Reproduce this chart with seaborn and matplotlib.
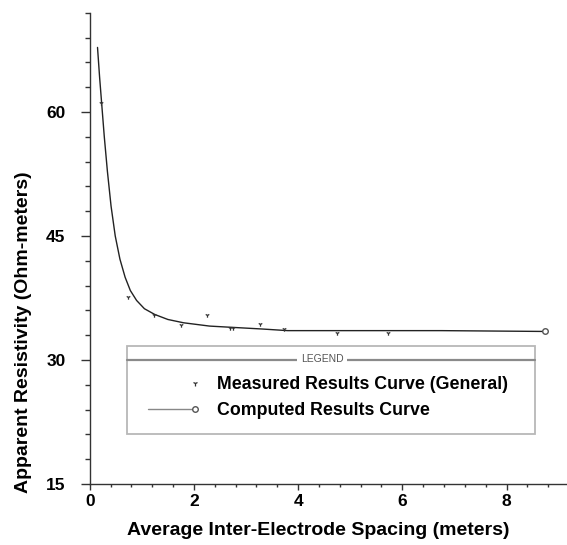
import matplotlib
matplotlib.use("Agg")
import matplotlib.pyplot as plt
import seaborn as sns
import pandas as pd
from matplotlib.lines import Line2D
from matplotlib.patches import Rectangle
from matplotlib.legend_handler import HandlerLine2D
from matplotlib.ticker import MultipleLocator

# ---- data ----
measured_x = [0.21, 0.73, 1.24, 1.75, 2.25, 2.69, 2.75, 3.26, 3.73, 4.74, 5.72]
measured_y = [61.1, 37.6, 35.4, 34.2, 35.4, 33.9, 33.9, 34.3, 33.75, 33.3, 33.3]

computed_x = [0.15, 0.19, 0.23, 0.28, 0.34, 0.41, 0.49, 0.58, 0.68, 0.78, 0.90,
              1.05, 1.25, 1.50, 1.80, 2.30, 2.75, 3.30, 3.80, 5.00, 6.75, 8.74]
computed_y = [67.8, 64.2, 61.0, 57.0, 52.8, 48.6, 45.0, 42.2, 40.0, 38.4, 37.2,
              36.2, 35.5, 34.9, 34.5, 34.1, 33.94, 33.75, 33.55, 33.55, 33.55, 33.45]

x_ticks = [0, 2, 4, 6, 8]
y_ticks = [15, 30, 45, 60]
x_label = "Average Inter-Electrode Spacing (meters)"
y_label = "Apparent Resistivity (Ohm-meters)"
legend_title = "LEGEND"
measured_name = "Measured Results Curve (General)"
computed_name = "Computed Results Curve"

sns.set_style("ticks")
plt.rcParams["font.family"] = ["Liberation Sans", "DejaVu Sans"]
plt.rcParams["font.weight"] = "bold"
plt.rcParams["text.color"] = "black"
plt.rcParams["axes.labelcolor"] = "black"
plt.rcParams["xtick.labelcolor"] = "black"
plt.rcParams["ytick.labelcolor"] = "black"

meas_df = pd.DataFrame({"x": measured_x, "y": measured_y})
comp_df = pd.DataFrame({"x": computed_x, "y": computed_y})

fig = plt.figure(figsize=(5.67, 5.45), dpi=100)
ax = fig.add_axes([0.1582, 0.1119, 1 - 0.1582, 0.9767 - 0.1119])

sns.lineplot(data=comp_df, x="x", y="y", ax=ax, color="#222222", lw=1.0,
             marker="o", markevery=[len(computed_x) - 1], markersize=4,
             markerfacecolor="white", markeredgecolor="#555555",
             markeredgewidth=1.0, estimator=None, sort=False)
sns.scatterplot(data=meas_df, x="x", y="y", ax=ax, marker="1", s=10,
                color="#333333", linewidth=0.9, zorder=3)

ax.set_xlim(0, 9.16)
ax.set_ylim(15, 72)
ax.set_xticks(x_ticks)
ax.set_yticks(y_ticks)
ax.xaxis.set_minor_locator(MultipleLocator(0.4))
ax.yaxis.set_minor_locator(MultipleLocator(3))
ax.tick_params(axis="both", which="major", direction="out", width=1.0,
               labelsize=12.5, color="#333333", labelcolor="black")
ax.tick_params(axis="y", which="major", length=6.5, pad=11)
ax.tick_params(axis="x", which="major", length=4, pad=3)
ax.tick_params(axis="y", which="minor", direction="out", length=3.6, width=1.0, color="#333333")
ax.tick_params(axis="x", which="minor", direction="out", length=2.2, width=1.0, color="#333333")
for lab in ax.get_xticklabels() + ax.get_yticklabels():
    lab.set_fontweight("bold")

sns.despine(ax=ax)
for s in ["left", "bottom"]:
    ax.spines[s].set_color("#333333")
    ax.spines[s].set_linewidth(1.0)

ax.set_xlabel(x_label, fontsize=14, fontweight="bold", color="black")
ax.set_ylabel(y_label, fontsize=14, fontweight="bold", color="black")
ax.xaxis.set_label_coords(0.478, -0.081)
ax.yaxis.set_label_coords(-0.121, 0.323)

# legend box
bx0, bx1, by0, by1 = 0.078, 0.933, 0.106, 0.293
ax.add_patch(Rectangle((bx0, by0), bx1 - bx0, by1 - by0, transform=ax.transAxes,
                       fill=False, edgecolor="#b8b8b8", lw=1.3, zorder=4))
ax.plot([bx0, bx1], [0.263, 0.263], transform=ax.transAxes, color="#8a8a8a",
        lw=1.6, zorder=4)
ax.text(0.487, 0.265, legend_title, transform=ax.transAxes, ha="center",
        va="center", fontsize=7.5, fontweight="normal", color="#555555",
        bbox=dict(facecolor="white", edgecolor="none", pad=2.5), zorder=5)


class EndMarkerHandler(HandlerLine2D):
    def create_artists(self, legend, orig_handle, xdescent, ydescent, width,
                       height, fontsize, trans):
        arts = super().create_artists(legend, orig_handle, xdescent, ydescent,
                                      width, height, fontsize, trans)
        for a in arts:
            xd = list(a.get_xdata())
            if len(xd) >= 2:
                a.set_markevery([len(xd) - 1])
            else:
                a.set_xdata([width - xdescent])
        return arts


h_meas = Line2D([], [], linestyle="none", marker="1", markersize=4,
                color="#333333", markeredgewidth=0.9)
h_comp = Line2D([], [], color="#888888", lw=1.0, marker="o", markersize=4,
                markerfacecolor="white", markeredgecolor="#555555")
leg = ax.legend([h_meas, h_comp], [measured_name, computed_name],
                loc="upper left", bbox_to_anchor=(0.122, 0.2290),
                frameon=False, borderpad=0, borderaxespad=0, numpoints=1,
                handlelength=2.65, handletextpad=1.25, labelspacing=0.52,
                prop={"size": 12.8, "weight": "bold"},
                handler_map={Line2D: EndMarkerHandler(numpoints=1)})
leg.set_zorder(6)
for t in leg.get_texts():
    t.set_color("black")

fig.savefig("out.png", dpi=100, facecolor="white")
